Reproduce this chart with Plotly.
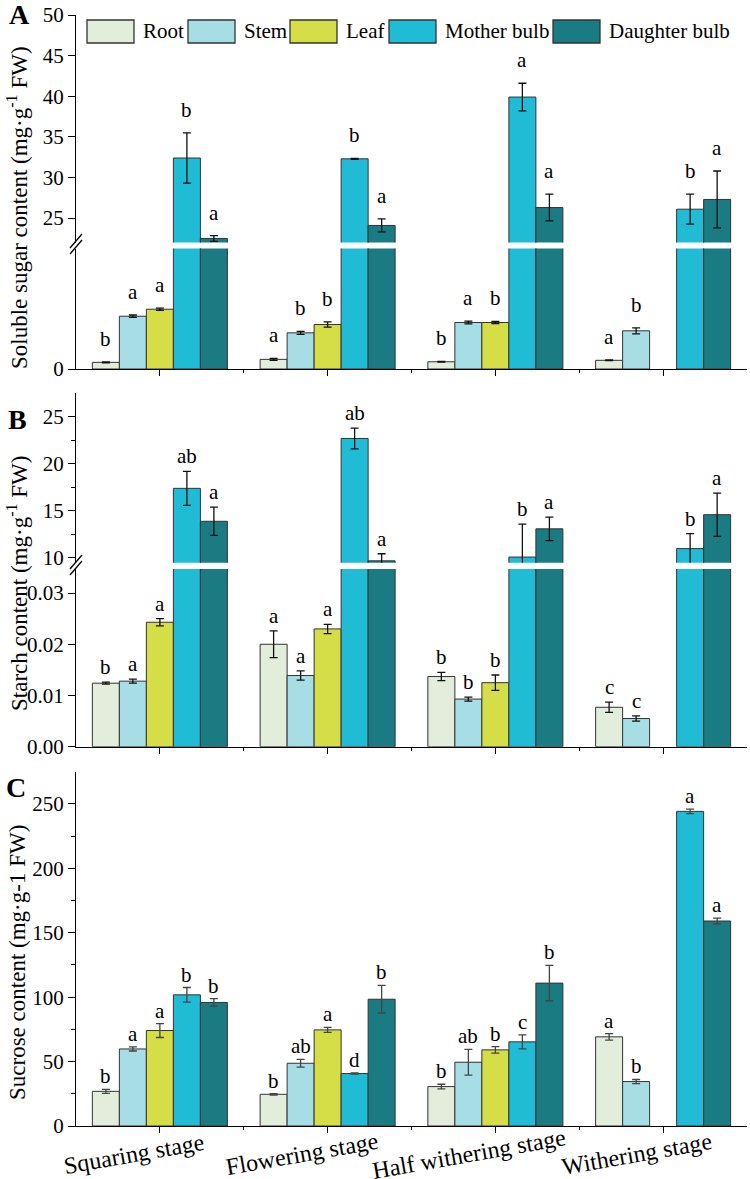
import plotly.graph_objects as go

# === DATA ===
stages = ["Squaring stage", "Flowering stage", "Half withering stage", "Withering stage"]
tissues = ["Root", "Stem", "Leaf", "Mother bulb", "Daughter bulb"]
colors = ["#E3EDDC", "#A7DEE6", "#D6DE47", "#20BCD6", "#1A7B82"]

# A: soluble sugar (lower segment unlabeled, bulbs on upper segment)
sugar_vals = [[0.55, 0.8, 0.6, 0.72],
              [4.38, 3.0, 3.86, 3.17],
              [4.96, 3.69, 3.86, None],
              [32.4, 32.3, 39.9, 26.1],
              [22.5, 24.1, 26.3, 27.3]]
sugar_err = [[0.03, 0.08, 0.03, 0.03],
             [0.1, 0.12, 0.12, 0.25],
             [0.1, 0.22, 0.1, None],
             [3.1, 0.06, 1.7, 1.85],
             [0.35, 0.8, 1.65, 3.5]]
sugar_sig = [["b", "a", "b", "a"],
             ["a", "b", "a", "b"],
             ["a", "b", "b", ""],
             ["b", "b", "a", "b"],
             ["a", "a", "a", "a"]]

# B: starch
starch_vals = [[0.0124, 0.0200, 0.0137, 0.0077],
               [0.0128, 0.0139, 0.0093, 0.0055],
               [0.0243, 0.0230, 0.0125, None],
               [17.4, 22.7, 10.1, 11.0],
               [13.9, 9.7, 13.1, 14.6]]
starch_err = [[0.0002, 0.0026, 0.0008, 0.001],
              [0.0004, 0.0009, 0.0004, 0.0005],
              [0.0007, 0.0009, 0.0015, None],
              [1.8, 1.1, 3.5, 1.6],
              [1.5, 0.75, 1.25, 2.3]]
starch_sig = [["b", "a", "b", "c"],
              ["a", "a", "b", "c"],
              ["a", "a", "b", ""],
              ["ab", "ab", "b", "b"],
              ["a", "a", "a", "a"]]

# C: sucrose
sucrose_vals = [[26.9, 24.6, 30.6, 69.2],
                [59.8, 48.7, 49.5, 34.5],
                [74.1, 74.6, 59.1, None],
                [101.8, 40.7, 65.3, 244.2],
                [95.9, 98.4, 110.9, 159.1]]
sucrose_err = [[1.5, 0.6, 1.8, 2.5],
               [1.6, 3.0, 10.0, 1.6],
               [5.4, 2.0, 2.5, None],
               [5.7, 0.5, 5.5, 1.7],
               [3.0, 10.7, 13.7, 2.2]]
sucrose_sig = [["b", "b", "b", "a"],
               ["a", "ab", "ab", "b"],
               ["a", "a", "b", ""],
               ["b", "d", "c", "a"],
               ["b", "b", "b", "a"]]

# === LAYOUT HELPERS ===
W, H = 750, 1179
ML, MR, MT, MB = 76, 3, 15, 53
PW = W - ML - MR
PH = H - MT - MB
FONT = "Liberation Serif"


def fx(px):
    return (px - ML) / PW


def fy(py):
    return (H - MB - py) / PH


xs = list(range(len(stages)))
BAR_SLOT = 0.161

fig = go.Figure()
annotations = []


def add_panel(vals, errs, sigs, axes, low_top, gap, err_color):
    # axes: list of (xref, yref); first is the lower/only segment
    for i, name in enumerate(tissues):
        for xa, ya in axes:
            fig.add_trace(go.Bar(
                x=xs, y=vals[i], name=name, xaxis=xa, yaxis=ya,
                marker=dict(color=colors[i], line=dict(color="#333333", width=1)),
                error_y=dict(type="data", array=errs[i], color=err_color,
                             thickness=1.3, width=4),
                showlegend=False))
        for j in xs:
            if vals[i][j] is None or not sigs[i][j]:
                continue
            top = vals[i][j] + (errs[i][j] or 0)
            xa, ya = axes[0]
            if len(axes) > 1 and top > low_top:
                xa, ya = axes[1]
            annotations.append(dict(
                x=j + (i - 2) * BAR_SLOT, y=top, xref=xa, yref=ya,
                text=sigs[i][j], showarrow=False, yanchor="bottom",
                yshift=gap - 6, font=dict(family=FONT, size=21, color="black")))


add_panel(sugar_vals, sugar_err, sugar_sig, [("x", "y"), ("x2", "y2")], 10, 15, "#111111")
add_panel(starch_vals, starch_err, starch_sig, [("x3", "y3"), ("x4", "y4")], 0.0347, 7, "#111111")
add_panel(sucrose_vals, sucrose_err, sucrose_sig, [("x5", "y5")], None, 5, "#444444")

tickfont = dict(family=FONT, size=21, color="black")
yax = dict(showline=True, linecolor="black", linewidth=1.3, ticks="outside", ticklen=7,
           tickwidth=1.3, tickcolor="black", showgrid=False, zeroline=False,
           tickfont=tickfont, automargin=False)
xvis = dict(range=[-0.5, 3.5], domain=[0, 1], tickvals=xs, showticklabels=False,
            ticks="outside", ticklen=6, tickwidth=1.3, tickcolor="black",
            minor=dict(tickvals=[0.5, 1.5, 2.5], ticks="outside", ticklen=3,
                       tickwidth=1.3, tickcolor="black"),
            showline=True, linecolor="black", linewidth=1.3, showgrid=False,
            zeroline=False, automargin=False)
xhid = dict(range=[-0.5, 3.5], domain=[0, 1], visible=False)

fig.update_layout(
    xaxis=dict(xvis, anchor="y"),
    xaxis2=dict(xhid, anchor="y2"),
    xaxis3=dict(xvis, anchor="y3"),
    xaxis4=dict(xhid, anchor="y4"),
    xaxis5=dict(xvis, anchor="y5"),
    yaxis=dict(yax, anchor="x", domain=[fy(369), fy(248.5)], range=[0, 10], tickvals=[0]),
    yaxis2=dict(yax, anchor="x2", domain=[fy(242.5), 1.0], range=[22.0, 50],
                tickvals=[25, 30, 35, 40, 45, 50]),
    yaxis3=dict(yax, anchor="x3", domain=[fy(746.7), fy(569)], range=[0, 0.0347],
                tickvals=[0, 0.01, 0.02, 0.03], ticktext=["0.00", "0.01", "0.02", "0.03"]),
    yaxis4=dict(yax, anchor="x4", domain=[fy(562.7), fy(393.3)], range=[9.5, 27.5],
                tickvals=[10, 15, 20, 25],
                minor=dict(tickvals=[12.5, 17.5, 22.5], ticks="outside", ticklen=4,
                           tickwidth=1.3, tickcolor="black")),
    yaxis5=dict(yax, anchor="x5", domain=[0, fy(771.7)], range=[0, 275],
                tickvals=[0, 50, 100, 150, 200, 250],
                minor=dict(tickvals=[25, 75, 125, 175, 225], ticks="outside", ticklen=4,
                           tickwidth=1.3, tickcolor="black")),
    barmode="group", bargap=0.195, bargroupgap=0,
    width=W, height=H, margin=dict(l=ML, r=MR, t=MT, b=MB),
    plot_bgcolor="white", paper_bgcolor="white",
    font=dict(family=FONT, color="black"),
)

# === STAGE LABELS (rotated) ===
for j, s in enumerate(stages):
    annotations.append(dict(x=j, y=0, xref="x5", yref="paper", text=s, showarrow=False,
                            xanchor="center", yanchor="middle", textangle=-10,
                            xshift=-26, yshift=-28, font=dict(family=FONT, size=24)))

# === AXIS TITLES AND PANEL LETTERS ===
titles = ["Soluble sugar content (mg·g<sup>-1</sup> FW)",
          "Starch content (mg·g<sup>-1</sup> FW)",
          "Sucrose content (mg·g-1 FW)"]
title_y = [208, 583, 963]
for t, py in zip(titles, title_y):
    annotations.append(dict(x=0, y=fy(py), xref="paper", yref="paper", text=t,
                            showarrow=False, textangle=-90, xanchor="center",
                            yanchor="middle", xshift=17 - ML,
                            font=dict(family=FONT, size=23)))

for letter, (px, py) in zip(["A", "B", "C"], [(19, 14), (17, 419), (16, 787)]):
    annotations.append(dict(x=0, y=fy(py), xref="paper", yref="paper",
                            text="<b>%s</b>" % letter, showarrow=False,
                            xanchor="center", yanchor="middle", xshift=px - ML,
                            font=dict(family=FONT, size=28)))

# === LEGEND (drawn by hand to get the wide swatches) ===
shapes = []
legend_box_x = [87, 188, 290, 389, 553]
for name, c, bx in zip(tissues, colors, legend_box_x):
    shapes.append(dict(type="rect", xref="paper", yref="paper",
                       x0=fx(bx), x1=fx(bx + 47), y0=fy(43), y1=fy(20),
                       fillcolor=c, line=dict(color="#333333", width=1.3)))
    annotations.append(dict(x=fx(bx + 54), y=fy(31), xref="paper", yref="paper",
                            text=name, showarrow=False, xanchor="left", yanchor="middle",
                            font=dict(family=FONT, size=21)))

# === AXIS BREAK MARKS ===
for yb in [245, 566]:
    for dy in [-3, 3]:
        shapes.append(dict(type="line", xref="paper", yref="paper",
                           x0=fx(70), y0=fy(yb + dy + 6), x1=fx(82), y1=fy(yb + dy - 8),
                           line=dict(color="black", width=1.3)))

fig.update_layout(annotations=annotations, shapes=shapes)
fig.write_html("out.html", config={"displayModeBar": False},
               post_script="document.body.style.margin='0';")
